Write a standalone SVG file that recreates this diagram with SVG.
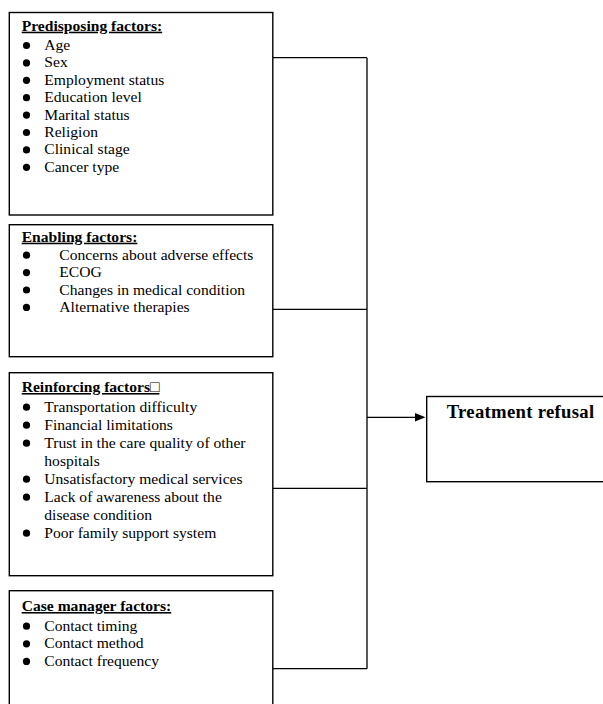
<svg xmlns="http://www.w3.org/2000/svg" width="603" height="704" viewBox="0 0 603 704">
<style>
.box{fill:#fff;stroke:#000;stroke-width:1.4}
.t{font-family:"Liberation Serif","Times New Roman",serif;font-size:15.6px;fill:#000}
.h{font-weight:bold;text-decoration:underline}
.big{font-family:"Liberation Serif","Times New Roman",serif;font-size:18.7px;font-weight:bold;letter-spacing:0.3px;fill:#000}
.c{stroke:#000;stroke-width:1.3;fill:none}
.b{fill:#000}
</style>
<rect width="603" height="704" fill="#fff"/>
<g id="connectors">
<path class="c" d="M273 57.7H367M273 309.3H367M273 488.3H367M273 668.7H367M367 57.7V668.7M367 417.3H416"/>
<polygon class="b" points="415,413 425.5,417.3 415,421.6"/>
</g>
<g id="predisposing">
<rect class="box" x="9.3" y="12.5" width="263.5" height="202.5"/>
<text class="t h" x="21.7" y="30.7">Predisposing factors:</text>
<g class="b">
<circle cx="26.5" cy="45.5" r="3.6"/><circle cx="26.5" cy="62.9" r="3.6"/><circle cx="26.5" cy="80.3" r="3.6"/><circle cx="26.5" cy="97.7" r="3.6"/><circle cx="26.5" cy="115.1" r="3.6"/><circle cx="26.5" cy="132.5" r="3.6"/><circle cx="26.5" cy="149.9" r="3.6"/><circle cx="26.5" cy="167.3" r="3.6"/>
</g>
<text class="t" x="44.3" y="50">Age</text>
<text class="t" x="44.3" y="67.4">Sex</text>
<text class="t" x="44.3" y="84.8">Employment status</text>
<text class="t" x="44.3" y="102.2">Education level</text>
<text class="t" x="44.3" y="119.6">Marital status</text>
<text class="t" x="44.3" y="137">Religion</text>
<text class="t" x="44.3" y="154.4">Clinical stage</text>
<text class="t" x="44.3" y="171.8">Cancer type</text>
</g>
<g id="enabling">
<rect class="box" x="9.3" y="224.7" width="263.5" height="132"/>
<text class="t h" x="21.7" y="241.7">Enabling factors:</text>
<g class="b">
<circle cx="26.5" cy="255.2" r="3.6"/><circle cx="26.5" cy="272.6" r="3.6"/><circle cx="26.5" cy="290" r="3.6"/><circle cx="26.5" cy="307.4" r="3.6"/>
</g>
<text class="t" x="59.3" y="259.7">Concerns about adverse effects</text>
<text class="t" x="59.3" y="277.1">ECOG</text>
<text class="t" x="59.3" y="294.5">Changes in medical condition</text>
<text class="t" x="59.3" y="311.9">Alternative therapies</text>
</g>
<g id="reinforcing">
<rect class="box" x="9.3" y="372.7" width="263.5" height="203"/>
<text class="t h" x="21.7" y="392">Reinforcing factors□</text>
<g class="b">
<circle cx="26.5" cy="407.2" r="3.6"/><circle cx="26.5" cy="425.2" r="3.6"/><circle cx="26.5" cy="443.2" r="3.6"/><circle cx="26.5" cy="479.2" r="3.6"/><circle cx="26.5" cy="497.2" r="3.6"/><circle cx="26.5" cy="533.2" r="3.6"/>
</g>
<text class="t" x="44.3" y="411.7">Transportation difficulty</text>
<text class="t" x="44.3" y="429.7">Financial limitations</text>
<text class="t" x="44.3" y="447.7">Trust in the care quality of other</text>
<text class="t" x="44.3" y="465.7">hospitals</text>
<text class="t" x="44.3" y="483.7">Unsatisfactory medical services</text>
<text class="t" x="44.3" y="501.7">Lack of awareness about the</text>
<text class="t" x="44.3" y="519.7">disease condition</text>
<text class="t" x="44.3" y="537.7">Poor family support system</text>
</g>
<g id="case-manager">
<rect class="box" x="9.3" y="590.7" width="263.5" height="130"/>
<text class="t h" x="21.7" y="611">Case manager factors:</text>
<g class="b">
<circle cx="26.5" cy="626.2" r="3.6"/><circle cx="26.5" cy="643.8" r="3.6"/><circle cx="26.5" cy="661.4" r="3.6"/>
</g>
<text class="t" x="44.3" y="630.7">Contact timing</text>
<text class="t" x="44.3" y="648.3">Contact method</text>
<text class="t" x="44.3" y="665.9">Contact frequency</text>
</g>
<g id="treatment-refusal">
<rect class="box" x="426.7" y="396.5" width="190" height="85.2"/>
<text class="big" x="446.7" y="418">Treatment refusal</text>
</g>
</svg>
